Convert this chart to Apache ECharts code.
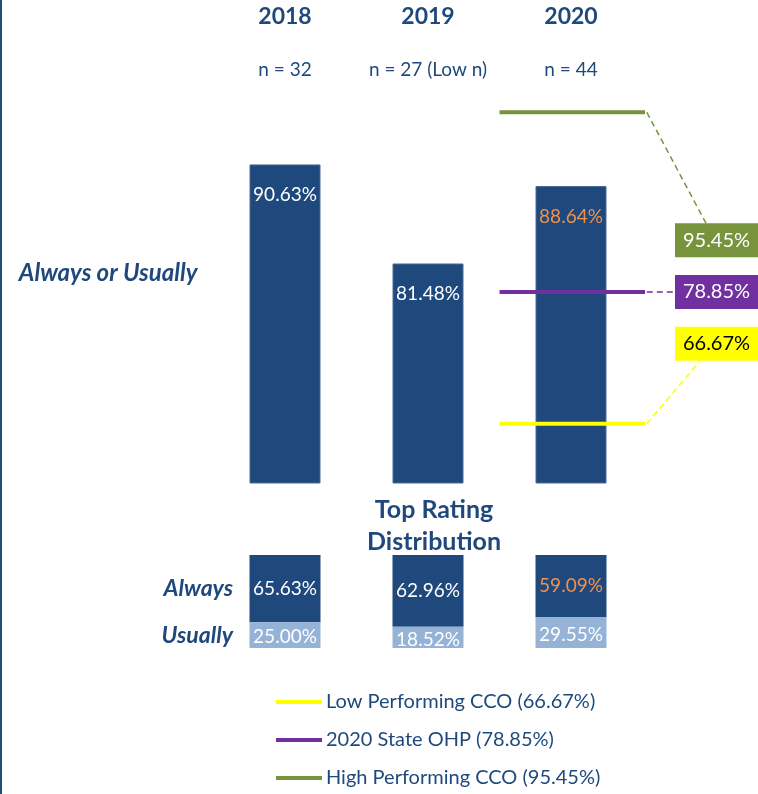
<!DOCTYPE html>
<html>
<head>
<meta charset="utf-8">
<script src="https://cdn.jsdelivr.net/npm/echarts@6/dist/echarts.min.js"></script>
<style>
html,body{margin:0;padding:0;background:#fff;}
#c{width:758px;height:794px;}
</style>
</head>
<body>
<div id="c"></div>
<script>
// ---- data ----
const years = ['2018', '2019', '2020'];
const sampleSizes = ['n = 32', 'n = 27 (Low n)', 'n = 44'];
const alwaysOrUsually = [90.63, 81.48, 88.64];
const alwaysVals = [65.63, 62.96, 59.09];
const usuallyVals = [25.00, 18.52, 29.55];
const refNames = ['Low Performing CCO', '2020 State OHP', 'High Performing CCO'];
const refValues = [66.67, 78.85, 95.45];
const refColors = ['#FFFF00', '#7030A0', '#77933C'];
const refTextColors = ['#000000', '#FFFFFF', '#FFFFFF'];
const highlightIndex = 2; // 2020 labels in orange

// ---- layout ----
const FONT = 'Lato, "Open Sans", sans-serif';
const DARK = '#1F497D';
const BAR = '#1F497D';
const LIGHT = '#95B3D7';
const ORANGE = '#F0914A';
const gridLeft = 213.5, gridWidth = 429;
const boxDy = [-80, 0, 128];     // label box offset from its line (px)
const lineX = [2.0, 3.03];       // horizontal extent of reference lines (category units)
const VAL_FS = 19;

const chart = echarts.init(document.getElementById('c'), null, {renderer: 'canvas'});

const totals = alwaysVals.map((a, i) => a + usuallyVals[i]);
const alwaysShare = alwaysVals.map((a, i) => a / totals[i] * 100);
const usuallyShare = usuallyVals.map((u, i) => u / totals[i] * 100);

const labelColor = (i) => i === highlightIndex ? ORANGE : '#FFFFFF';

const series = [
  {
    type: 'bar', xAxisIndex: 0, yAxisIndex: 0, barWidth: 71,
    data: alwaysOrUsually.map((v, i) => ({
      value: v,
      label: {color: labelColor(i)}
    })),
    itemStyle: {color: BAR, borderColor: '#4A6A95', borderWidth: 1},
    label: {show: true, position: 'insideTop', distance: 21, fontFamily: FONT, fontSize: VAL_FS,
      formatter: p => p.value.toFixed(2) + '%'},
    silent: true, z: 2
  },
  {
    type: 'bar', xAxisIndex: 2, yAxisIndex: 2, barWidth: 71, stack: 'dist', name: 'Always',
    data: alwaysShare.map((v, i) => ({
      value: v,
      label: {color: labelColor(i), formatter: alwaysVals[i].toFixed(2) + '%'}
    })),
    itemStyle: {color: BAR},
    label: {show: true, position: 'inside', fontFamily: FONT, fontSize: VAL_FS},
    silent: true
  },
  {
    type: 'bar', xAxisIndex: 2, yAxisIndex: 2, barWidth: 71, stack: 'dist', name: 'Usually',
    data: usuallyShare.map((v, i) => ({
      value: v,
      label: {color: '#FFFFFF', formatter: usuallyVals[i].toFixed(2) + '%'}
    })),
    itemStyle: {color: LIGHT},
    label: {show: true, position: 'inside', fontFamily: FONT, fontSize: VAL_FS, offset: [0, 2]},
    silent: true
  }
];
refNames.forEach((n, i) => {
  series.push({
    type: 'line', name: n + ' (' + refValues[i].toFixed(2) + '%)',
    xAxisIndex: 1, yAxisIndex: 1, clip: false, symbol: 'none', silent: true, z: 5,
    data: [[lineX[0], refValues[i]], [lineX[1], refValues[i]]],
    lineStyle: {color: refColors[i], width: 4},
    itemStyle: {color: refColors[i]}
  });
});

chart.setOption({
  animation: false,
  backgroundColor: '#fff',
  title: {
    text: 'Top Rating\nDistribution', left: 429, top: 489, textAlign: 'center',
    textStyle: {fontFamily: FONT, fontWeight: 'bold', fontSize: 25, color: DARK, lineHeight: 32}
  },
  grid: [
    {left: gridLeft, width: gridWidth, top: 63, height: 420},
    {left: gridLeft, width: gridWidth, top: 555, height: 93},
    {left: gridLeft, width: gridWidth, top: 97, height: 5}
  ],
  xAxis: [
    {type: 'category', gridIndex: 0, data: years, show: false},
    {type: 'value', gridIndex: 0, min: 0, max: 3, show: false},
    {type: 'category', gridIndex: 1, data: years, show: false},
    {type: 'category', gridIndex: 2, data: years, position: 'top',
      axisLine: {show: false}, axisTick: {show: false},
      axisLabel: {margin: 0, interval: 0,
        formatter: (v, i) => '{y|' + v + '}\n{n|' + sampleSizes[i] + '}',
        rich: {
          y: {fontFamily: FONT, fontWeight: 'bold', fontSize: 23, color: DARK, lineHeight: 52},
          n: {fontFamily: FONT, fontSize: 19, color: DARK, lineHeight: 54}
        }}}
  ],
  yAxis: [
    {type: 'value', gridIndex: 0, min: 61.2, max: 100,
      axisLine: {show: false}, axisTick: {show: false}, axisLabel: {show: false}, splitLine: {show: false},
      name: 'Always or Usually', nameLocation: 'middle', nameRotate: 0, nameGap: 16,
      nameTextStyle: {fontFamily: FONT, fontWeight: 'bold', fontStyle: 'italic', fontSize: 24, color: DARK, align: 'right', padding: [0, 0, 6, 0]}},
    {type: 'value', gridIndex: 0, min: 61.2, max: 100, show: false},
    {type: 'value', gridIndex: 1, min: 0, max: 100, inverse: true, show: false},
    {type: 'value', gridIndex: 2, show: false}
  ],
  legend: {
    orient: 'vertical', left: 276, top: 692, itemGap: 18, padding: 0,
    itemWidth: 46, itemHeight: 4, icon: 'rect',
    data: series.filter(s => s.type === 'line').map(s => s.name),
    textStyle: {fontFamily: FONT, fontSize: 20, color: DARK, lineHeight: 20, padding: [0, 0, 0, -1]},
    selectedMode: false
  },
  series: series
});

// ---- annotations computed from the library's scales ----
const g = [];
g.push({type: 'rect', shape: {x: 0, y: 0, width: 2, height: 794}, style: {fill: '#1F4E79'}});
refValues.forEach((v, i) => {
  const end = chart.convertToPixel({xAxisIndex: 1, yAxisIndex: 1}, [lineX[1], v]);
  const bw = 83, bh = 34, bx = 675;
  const cy = end[1] + boxDy[i];
  const by = cy - bh / 2;
  let tx, ty;
  if (boxDy[i] > 0) { tx = bx + 31; ty = by; }
  else if (boxDy[i] < 0) { tx = bx + 25; ty = by + bh; }
  else { tx = bx; ty = cy; }
  g.push({type: 'line', shape: {x1: end[0], y1: end[1], x2: tx, y2: ty},
    style: {stroke: refColors[i], lineWidth: 1.5, lineDash: [6, 4]}, z: 10});
  g.push({type: 'rect', shape: {x: bx, y: by, width: bw, height: bh}, style: {fill: refColors[i]}, z: 11});
  g.push({type: 'text', x: bx + bw / 2, y: cy, z: 12,
    style: {text: v.toFixed(2) + '%', fill: refTextColors[i], font: '20px ' + FONT, align: 'center', verticalAlign: 'middle'}});
});
// row labels for the distribution
[['Always', alwaysShare[0] / 2], ['Usually', alwaysShare[0] + usuallyShare[0] / 2]].forEach(([t, v]) => {
  const p = chart.convertToPixel({xAxisIndex: 2, yAxisIndex: 2}, [years[0], v]);
  g.push({type: 'text', x: p[0] - 52, y: p[1], z: 12,
    style: {text: t, fill: DARK, font: 'italic bold 23px ' + FONT, align: 'right', verticalAlign: 'middle'}});
});
chart.setOption({graphic: g});
</script>
</body>
</html>
